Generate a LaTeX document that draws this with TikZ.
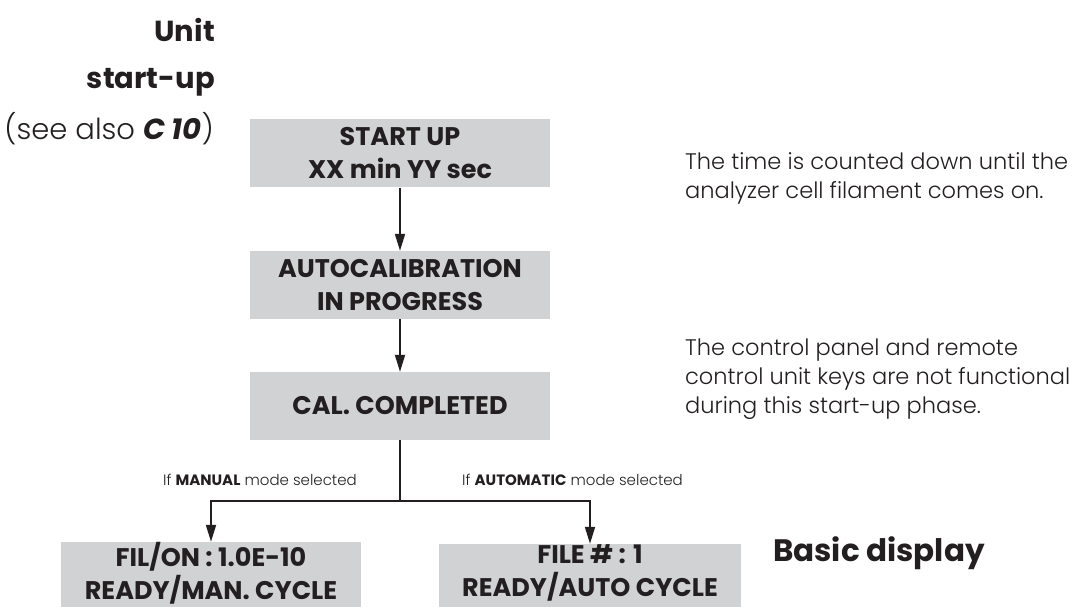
\documentclass[tikz,border=0pt]{standalone}
\usepackage{fontspec}
\setmainfont{Poppins}
\newfontfamily\lightfont{Poppins Light}
\usetikzlibrary{positioning,arrows.meta}
\definecolor{lcdgray}{RGB}{209,210,212}
\definecolor{inkblack}{RGB}{35,31,32}

\begin{document}
\begin{tikzpicture}[x=1pt,y=-1pt,text=inkblack,
  lcd/.style={fill=lcdgray,minimum width=300pt,minimum height=68pt,inner sep=0pt,
    align=center,font=\fontsize{25.5}{33}\selectfont\bfseries},
  flow/.style={draw=inkblack,line width=1.9pt,-{Triangle[length=17pt,width=10pt]}},
  wire/.style={draw=inkblack,line width=1.9pt},
  head/.style={font=\fontsize{29}{35}\selectfont\bfseries,inner sep=0pt},
  note/.style={anchor=west,align=left,inner sep=0pt,font=\fontsize{22.5}{29}\lightfont},
  cond/.style={inner sep=0pt,font=\fontsize{15}{18}\lightfont}]
  \useasboundingbox (0,0) rectangle (1080,607);

  % headings on the left
  \node[head,anchor=east] (unit) at (215,30) {Unit};
  \node[head,anchor=east] (startup) at (215,82) {start-up};
  \node[note,anchor=east,font=\fontsize{29}{34}\lightfont] (seealso) at (214,129)
    {(see also {\normalfont\bfseries\itshape C 10})};

  % display screens
  \node[lcd] (start) at (400,153.5) {START UP\\XX min YY sec};
  \node[lcd] (autocal) at (400,285) {AUTOCALIBRATION\\IN PROGRESS};
  \node[lcd] (calok) at (400,406) {CAL. COMPLETED};
  \node[lcd,minimum height=58pt] (manual) at (211,573) {FIL/ON : 1.0E-10\\READY/MAN. CYCLE};
  \node[lcd,minimum height=58pt,minimum width=302pt] (auto) at (590,573) {FILE \# : 1\\READY/AUTO CYCLE};
  % the two lower screens run off the page
  \fill[lcdgray] (manual.south west) rectangle ++(300,8);
  \fill[lcdgray] (auto.south west) rectangle ++(302,8);

  % connectors
  \coordinate (split) at (400,501);
  \draw[flow] (start) -- (autocal);
  \draw[flow] (autocal) -- (calok);
  \draw[wire] (calok) -- (split);
  \draw[flow] (split) -| (manual);
  \draw[flow] (split) -| (auto);

  % branch conditions
  \node[cond,anchor=east] (manlbl) at (357,480) {If {\normalfont\bfseries MANUAL} mode selected};
  \node[cond,anchor=west] (autolbl) at (462,480) {If {\normalfont\bfseries AUTOMATIC} mode selected};

  % notes on the right
  \node[note] (countnote) at (685,178) {The time is counted down until the\\analyzer cell filament comes on.};
  \node[note] (keysnote) at (685,379) {The control panel and remote\\control unit keys are not functional\\during this start-up phase.};
  \node[head,anchor=west,font=\fontsize{31}{37}\selectfont\bfseries] (basic) at (773,553) {Basic display};
\end{tikzpicture}
\end{document}
